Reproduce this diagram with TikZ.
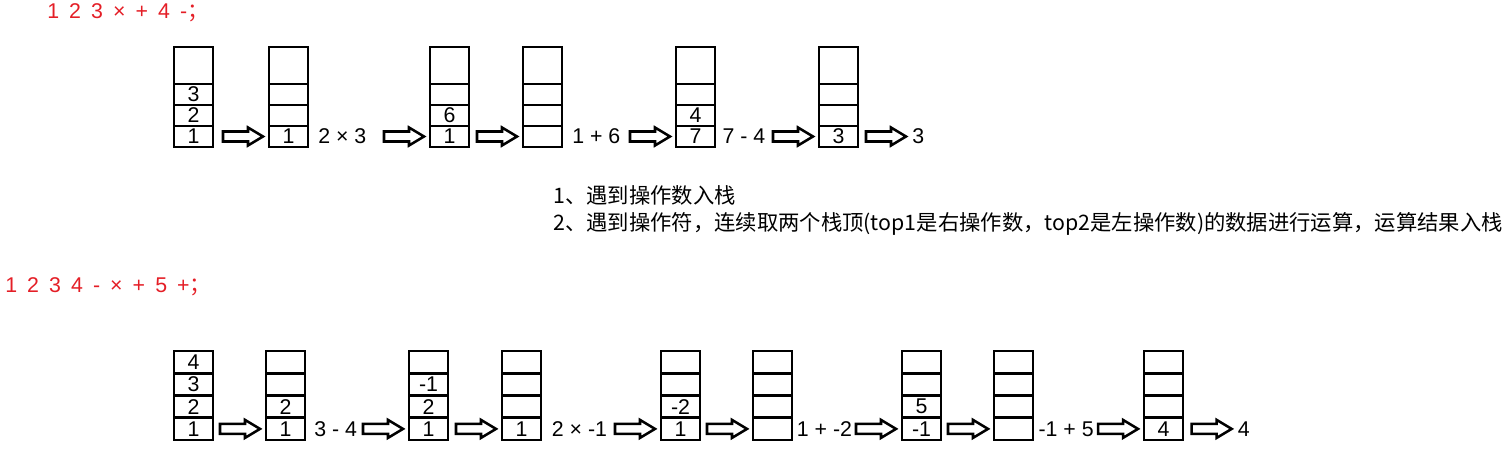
\documentclass[tikz,border=0pt]{standalone}
\usepackage{fontspec}
\setmainfont{Liberation Sans}
\newfontfamily\cjk{Noto Sans CJK SC}
\newfontfamily\seqfont[WordSpace=1.7]{Liberation Sans}
\usetikzlibrary{calc, positioning}
\definecolor{seqred}{RGB}{228,30,38}
\tikzset{
    %one box of a stack
    cell/.style={draw, line width=2pt, minimum width=29.25pt,
                 inner sep=0pt, outer sep=0pt,
                 font=\fontsize{16}{18}\selectfont},
    optxt/.style={inner sep=0pt, font=\fontsize{16}{18}\selectfont},
    seqtxt/.style={inner sep=0pt, anchor=west, text=seqred,
                   font=\seqfont\fontsize{16}{18}\selectfont},
    ruletxt/.style={inner sep=0pt, anchor=west,
                    font=\cjk\fontsize{16}{18}\selectfont},
    %hollow block arrow ending just before the target
    blockarr/.style={draw, fill=white, line width=1.9pt, line join=miter,
        to path={let \p1=(\tikztostart.east), \p2=(\tikztotarget.west) in
          (\x2-34.5pt,\y1+3.75pt) -- (\x2-15.75pt,\y1+3.75pt)
          -- (\x2-15.75pt,\y1+6.75pt) -- (\x2-4.5pt,\y1)
          -- (\x2-15.75pt,\y1-6.75pt) -- (\x2-15.75pt,\y1-3.75pt)
          -- (\x2-34.5pt,\y1-3.75pt) -- cycle}},
}

\begin{document}
\begin{tikzpicture}[x=0.75pt, y=-0.75pt]
    \useasboundingbox (0,0) rectangle (1512,449);

    \node[seqtxt] (seq1) at (47,13) {1 2 3 × + 4 -{\cjk ；}};
    \node[seqtxt] (seq2) at (5,287) {1 2 3 4 - × + 5 +{\cjk ；}};

    % first expression
    \foreach \n/\x/\a/\b/\c in {t1/174/1/2/3, t2/269/1/{}/{}, t3/430/1/6/{},
                                t4/523/{}/{}/{}, t5/676/7/4/{}, t6/819/3/{}/{}} {
        \node[cell, minimum height=15.75pt] (\n-1) at (\x+19.5,136.5) {\a};
        \node[cell, minimum height=15.75pt] (\n-2) at (\x+19.5,115.5) {\b};
        \node[cell, minimum height=15.75pt] (\n-3) at (\x+19.5,94.5) {\c};
        \node[cell, minimum height=27.75pt] (\n-4) at (\x+19.5,65.5) {};
    }
    \node[optxt, right=7.5pt of t2-1] (op1) {2 × 3};
    \node[optxt, right=7.5pt of t4-1] (op2) {1 + 6};
    \node[optxt, right=5.5pt of t5-1] (op3) {7 - 4};
    \node[optxt, right=40.5pt of t6-1] (res1) {3};

    \draw[blockarr] (t1-1) to (t2-1)
                    (op1) to (t3-1)
                    (t3-1) to (t4-1)
                    (op2) to (t5-1)
                    (op3) to (t6-1)
                    (t6-1) to (res1);

    \node[ruletxt] (rule1) at (553,195) {1、遇到操作数入栈};
    \node[ruletxt] (rule2) at (553,224)
        {2、遇到操作符，连续取两个栈顶(top1是右操作数，top2是左操作数)的数据进行运算，运算结果入栈};

    % second expression
    \foreach \n/\x/\a/\b/\c/\d in {b1/174/1/2/3/4, b2/266/1/2/{}/{}, b3/409/1/2/-1/{},
                                   b4/502/1/{}/{}/{}, b5/661/1/-2/{}/{}, b6/753/{}/{}/{}/{},
                                   b7/902/-1/5/{}/{}, b8/994/{}/{}/{}/{}, b9/1144/4/{}/{}/{}} {
        \node[cell, minimum height=16.69pt] (\n-1) at (\x+19.5,428.9) {\a};
        \node[cell, minimum height=16.69pt] (\n-2) at (\x+19.5,406.6) {\b};
        \node[cell, minimum height=16.69pt] (\n-3) at (\x+19.5,384.4) {\c};
        \node[cell, minimum height=16.69pt] (\n-4) at (\x+19.5,362.1) {\d};
    }
    \node[optxt, right=6.75pt of b2-1] (op4) {3 - 4};
    \node[optxt, right=8pt of b4-1] (op5) {2 × -1};
    \node[optxt, right=3.5pt of b6-1] (op6) {1 + -2};
    \node[optxt, right=4pt of b8-1] (op7) {-1 + 5};
    \node[optxt, right=41pt of b9-1] (res2) {4};

    \draw[blockarr] (b1-1) to (b2-1)
                    (op4) to (b3-1)
                    (b3-1) to (b4-1)
                    (op5) to (b5-1)
                    (b5-1) to (b6-1)
                    (op6) to (b7-1)
                    (b7-1) to (b8-1)
                    (op7) to (b9-1)
                    (b9-1) to (res2);
\end{tikzpicture}
\end{document}
